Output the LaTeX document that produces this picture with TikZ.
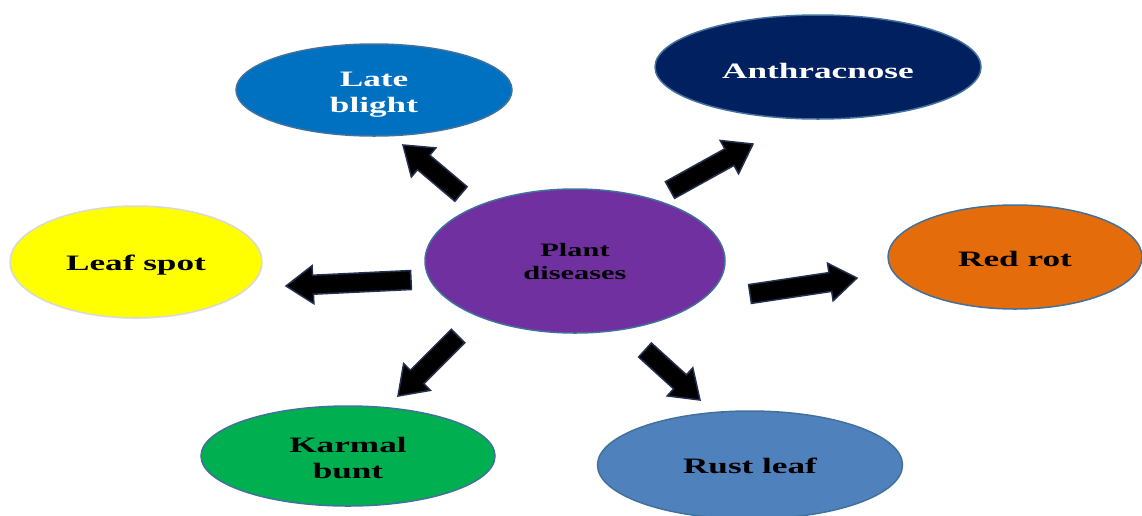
\documentclass[tikz,border=0pt]{standalone}
\usepackage{fontspec}
\newfontfamily\dfont[FakeStretch=1.6]{Liberation Serif}
\usetikzlibrary{shapes.geometric,calc}
\definecolor{cLB}{HTML}{0070C0}
\definecolor{cAN}{HTML}{002060}
\definecolor{cLS}{HTML}{FFFF00}
\definecolor{cPD}{HTML}{7030A0}
\definecolor{cRR}{HTML}{E46C0A}
\definecolor{cKB}{HTML}{00B050}
\definecolor{cRL}{HTML}{4F81BD}
\definecolor{cEdge}{HTML}{41719C}
\definecolor{cArrEdge}{HTML}{23304F}
\tikzset{
  disease/.style={ellipse, draw=cEdge, line width=1.5pt, inner sep=0pt, align=center,
    font=\dfont\bfseries\fontsize{22}{26}\selectfont},
  blockarrow/.style={fill=black, draw=cArrEdge, line width=1.5pt, line join=miter}
}
\newcommand{\lowtext}[2][4pt]{\raisebox{-#1}[\height][\depth]{\begin{tabular}{@{}c@{}}#2\end{tabular}}}
\newcommand{\barrow}[2]{%
  \path[blockarrow]
    ($(#1)!9.5pt!90:(#2)$) --
    ($($(#2)!27pt!(#1)$)!9.5pt!90:(#2)$) --
    ($($(#2)!27pt!(#1)$)!19pt!90:(#2)$) --
    (#2) --
    ($($(#2)!27pt!(#1)$)!19pt!-90:(#2)$) --
    ($($(#2)!27pt!(#1)$)!9.5pt!-90:(#2)$) --
    ($(#1)!9.5pt!-90:(#2)$) -- cycle;}
\begin{document}
\begin{tikzpicture}[x=1pt,y=-1pt]
\useasboundingbox (0,0) rectangle (1142,515);
\clip (0,0) rectangle (1142,515);
\fill[white] (0,0) rectangle (1142,515);
% nodes
\node[disease, fill=cPD, minimum width=300pt, minimum height=144pt, font=\dfont\bfseries\fontsize{19}{23}\selectfont, text=black] (pd) at (575,261) {\lowtext[2pt]{Plant\\diseases}};
\node[disease, fill=cLB, minimum width=276pt, minimum height=92pt, text=white] (lb) at (374,90) {\lowtext{Late\\blight}};
\node[disease, fill=cAN, minimum width=326pt, minimum height=104pt, text=white] (an) at (818,67) {\lowtext[6pt]{Anthracnose}};
\node[disease, fill=cLS, draw=black!15, minimum width=252pt, minimum height=112pt, text=black] (ls) at (136,262) {\lowtext[3pt]{Leaf spot}};
\node[disease, fill=cRR, minimum width=254pt, minimum height=104pt, text=black] (rr) at (1015,257) {\lowtext{Red rot}};
\node[disease, fill=cKB, minimum width=294pt, minimum height=100pt, text=black] (kb) at (348,456) {\lowtext{Karmal\\bunt}};
\node[disease, fill=cRL, minimum width=305pt, minimum height=108pt, text=black] (rl) at (750,465) {\lowtext[3pt]{Rust leaf}};
% arrow end points
\coordinate (a1s) at (461,194); \coordinate (a1e) at (403,145);
\coordinate (a2s) at (670,190); \coordinate (a2e) at (753,144);
\coordinate (a3s) at (411,280); \coordinate (a3e) at (286,286);
\coordinate (a4s) at (750,294); \coordinate (a4e) at (857,278);
\coordinate (a5s) at (458,336); \coordinate (a5e) at (398,396);
\coordinate (a6s) at (645,350); \coordinate (a6e) at (700,400);
\barrow{a1s}{a1e}
\barrow{a2s}{a2e}
\barrow{a3s}{a3e}
\barrow{a4s}{a4e}
\barrow{a5s}{a5e}
\barrow{a6s}{a6e}
\end{tikzpicture}
\end{document}
